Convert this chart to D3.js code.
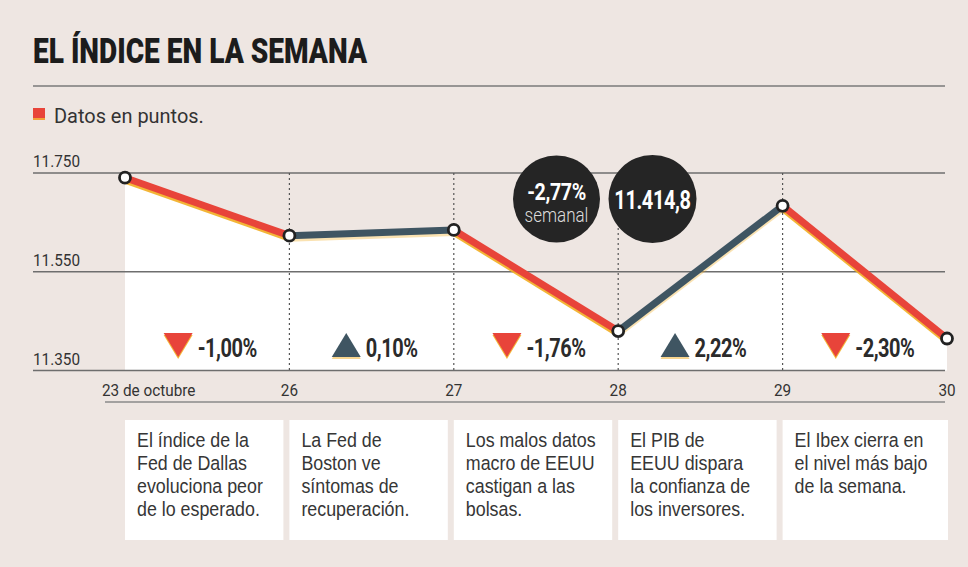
<!DOCTYPE html>
<html>
<head>
<meta charset="utf-8">
<script src="https://cdn.jsdelivr.net/npm/d3@7"></script>
<style>
  body { margin: 0; background: #eee6e2; }
  svg { display: block; }
</style>
</head>
<body>
<svg id="chart" width="968" height="567"></svg>
<script>
// Ibex 35 daily closes for the week, in points
const days = ["23 de octubre", "26", "27", "28", "29", "30"];
const closes = [11740.5, 11623.1, 11634.7, 11429.8, 11683.5, 11414.8];
const dailyChange = ["-1,00%", "0,10%", "-1,76%", "2,22%", "-2,30%"];
const yTicks = [11350, 11550, 11750];
const weekChange = "-2,77%";
const lastCloseLabel = "11.414,8";
const notes = [
  ["El índice de la", "Fed de Dallas", "evoluciona peor", "de lo esperado."],
  ["La Fed de", "Boston ve", "síntomas de", "recuperación."],
  ["Los malos datos", "macro de EEUU", "castigan a las", "bolsas."],
  ["El PIB de", "EEUU dispara", "la confianza de", "los inversores."],
  ["El Ibex cierra en", "el nivel más bajo", "de la semana."]
];

const RED = "#e8443a", SLATE = "#3f5562", SHADOW = "#f2ae22", INK = "#2f2f2f";
const FONT = "Roboto, 'Open Sans', sans-serif";
const BODY_FONT = "'Liberation Sans', Arial, sans-serif";

const es = d3.formatLocale({ decimal: ",", thousands: ".", grouping: [3], currency: ["", " €"] });
const fmtPts = es.format(",d");

const svg = d3.select("#chart");
const left = 33, right = 945;

const x = d3.scalePoint().domain(days).range([125, 947]);
const y = d3.scaleLinear().domain([11350, 11750]).range([370.5, 173]);

// condensed text helper: horizontal squeeze via transform
function ctext(parent, px, py, str, o) {
  return parent.append("text")
    .attr("transform", `translate(${px},${py}) scale(${o.sx || 1},1)`)
    .attr("text-anchor", o.anchor || "start")
    .attr("font-family", o.family || FONT)
    .attr("font-size", o.size)
    .attr("font-weight", o.weight || 400)
    .attr("letter-spacing", o.ls || 0)
    .attr("fill", o.fill || INK)
    .text(str);
}

// Title + rule
svg.append("text")
  .attr("x", left).attr("y", 63)
  .attr("font-family", FONT).attr("font-weight", 900).attr("font-size", 35)
  .attr("fill", "#1c1c1c")
  .attr("textLength", 334).attr("lengthAdjust", "spacingAndGlyphs")
  .text("EL ÍNDICE EN LA SEMANA");
svg.append("line").attr("x1", left).attr("x2", right).attr("y1", 86).attr("y2", 86)
  .attr("stroke", "#7a7a7a").attr("stroke-width", 1.3);

// Legend
svg.append("rect").attr("x", 33).attr("y", 108).attr("width", 12).attr("height", 12).attr("fill", "#f2a23a");
svg.append("rect").attr("x", 33).attr("y", 108).attr("width", 12).attr("height", 10).attr("fill", RED);
ctext(svg, 54, 123, "Datos en puntos.", { size: 21, sx: 0.95, fill: "#333" });

// White area under the line
const area = d3.area()
  .x((d, i) => x(days[i]))
  .y0(y(11350))
  .y1(d => y(d));
svg.append("path").datum(closes).attr("d", area).attr("fill", "#ffffff");

// Horizontal grid lines + y labels
const grid = svg.append("g");
yTicks.forEach(t => {
  grid.append("line").attr("x1", left).attr("x2", right)
    .attr("y1", y(t)).attr("y2", y(t))
    .attr("stroke", "#6e6e6e").attr("stroke-width", t === 11350 ? 1.5 : 1.3);
  ctext(grid, left, y(t) - 6, fmtPts(t), { size: 17, sx: 0.9, fill: "#333" });
});

// Vertical dotted day markers
days.slice(1, -1).forEach(d => {
  svg.append("line").attr("x1", x(d)).attr("x2", x(d))
    .attr("y1", y(11750)).attr("y2", y(11350))
    .attr("stroke", "#555").attr("stroke-width", 1.2).attr("stroke-dasharray", "2,3");
});

// X labels row
days.forEach((d, i) => {
  const px = i === 0 ? x(d) - 23 : x(d);
  ctext(svg, px, 396, d, { size: 17, sx: 0.9, anchor: i === 0 ? "start" : "middle", fill: "#333" });
});
svg.append("line").attr("x1", 105).attr("x2", right).attr("y1", 402).attr("y2", 402)
  .attr("stroke", "#8a8a8a").attr("stroke-width", 1.3);

// Line segments coloured by direction, with a warm under-glow
const segs = d3.pairs(closes.map((v, i) => ({ d: days[i], v })));
const lineG = svg.append("g");
segs.forEach(([a, b]) => {
  const down = b.v < a.v;
  lineG.append("line")
    .attr("x1", x(a.d)).attr("y1", y(a.v) + 3).attr("x2", x(b.d)).attr("y2", y(b.v) + 3)
    .attr("stroke", SHADOW).attr("stroke-width", 6).attr("opacity", down ? 0.9 : 0.35);
});
segs.forEach(([a, b]) => {
  const down = b.v < a.v;
  lineG.append("line")
    .attr("x1", x(a.d)).attr("y1", y(a.v)).attr("x2", x(b.d)).attr("y2", y(b.v))
    .attr("stroke", down ? RED : SLATE).attr("stroke-width", 7);
});

// Daily change labels
segs.forEach(([a, b], i) => {
  const down = b.v < a.v;
  const mid = (x(a.d) + x(b.d)) / 2 + 3;
  const g = svg.append("g");
  const sx = 0.8;
  const t = ctext(g, 0, 357, dailyChange[i], { size: 25, weight: 700, sx, ls: -0.6, fill: "#2b2b2b" });
  const tw = t.node().getComputedTextLength() * sx;
  const tri = 29, gap = 5;
  const x0 = mid - (tri + gap + tw) / 2;
  t.attr("transform", `translate(${x0 + tri + gap},357) scale(${sx},1)`);
  const yTop = 333, yBot = 357;
  const pts = down
    ? [[x0, yTop], [x0 + tri, yTop], [x0 + tri / 2, yBot]]
    : [[x0 + tri / 2, yTop], [x0 + tri, yBot], [x0, yBot]];
  const shifted = pts.map(p => [p[0], p[1] + 2]);
  g.insert("polygon", "text").attr("points", shifted.map(p => p.join(",")).join(" "))
    .attr("fill", SHADOW).attr("opacity", down ? 0.9 : 0.5);
  g.insert("polygon", "text").attr("points", pts.map(p => p.join(",")).join(" "))
    .attr("fill", down ? RED : SLATE);
});

// Points
svg.append("g").selectAll("circle").data(closes).join("circle")
  .attr("cx", (d, i) => x(days[i])).attr("cy", d => y(d))
  .attr("r", 5.5).attr("fill", "#fff").attr("stroke", "#222").attr("stroke-width", 2.8);

// Summary bubbles
const b1 = svg.append("g");
b1.append("circle").attr("cx", 556.5).attr("cy", 199).attr("r", 43.5).attr("fill", "#252525");
ctext(b1, 556.5, 200, weekChange, { size: 24, weight: 700, sx: 0.82, ls: -0.5, anchor: "middle", fill: "#fff" });
ctext(b1, 556.5, 222, "semanal", { size: 20, weight: 300, sx: 0.85, anchor: "middle", fill: "#dcdcdc" });
const b2 = svg.append("g");
b2.append("circle").attr("cx", 652.5).attr("cy", 199).attr("r", 44).attr("fill", "#252525");
ctext(b2, 652.5, 209, lastCloseLabel, { size: 25, weight: 700, sx: 0.8, ls: -0.5, anchor: "middle", fill: "#fff" });

// Note boxes under each day
notes.forEach((lines, i) => {
  const x0 = x(days[i]);
  const x1 = i < notes.length - 1 ? x(days[i + 1]) - 6 : x(days[i + 1]) + 1;
  const g = svg.append("g");
  g.append("rect").attr("x", x0).attr("y", 420).attr("width", x1 - x0).attr("height", 120).attr("fill", "#fff");
  lines.forEach((ln, j) => {
    ctext(g, x0 + 12, 447 + j * 23, ln, { size: 20.5, sx: 0.87, family: BODY_FONT, fill: "#363636" });
  });
});
</script>
</body>
</html>
